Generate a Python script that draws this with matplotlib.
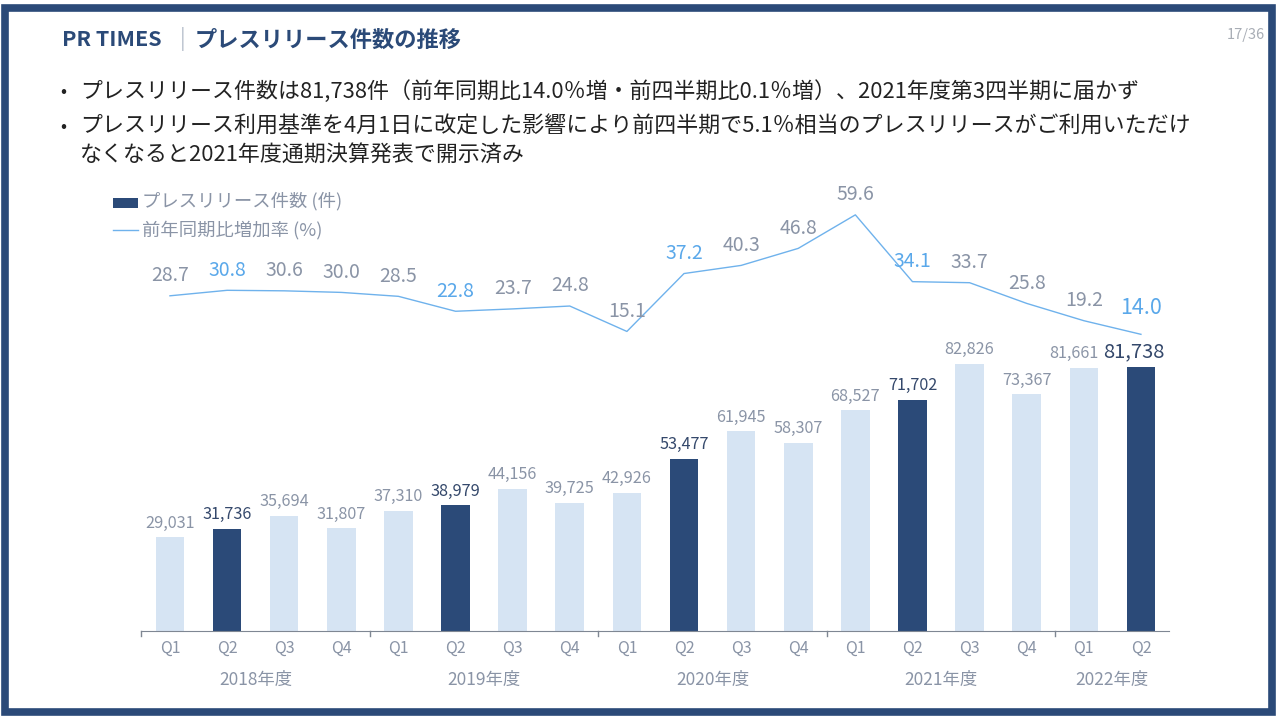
import matplotlib.pyplot as plt
import matplotlib.patches as patches
import numpy as np

plt.rcParams['font.family'] = ['Noto Sans CJK JP', 'DejaVu Sans']

# データ
quarters = ['Q1', 'Q2', 'Q3', 'Q4', 'Q1', 'Q2', 'Q3', 'Q4', 'Q1', 'Q2', 'Q3', 'Q4',
            'Q1', 'Q2', 'Q3', 'Q4', 'Q1', 'Q2']
fiscal_years = ['2018年度', '2019年度', '2020年度', '2021年度', '2022年度']
year_sizes = [4, 4, 4, 4, 2]
releases = [29031, 31736, 35694, 31807, 37310, 38979, 44156, 39725, 42926,
            53477, 61945, 58307, 68527, 71702, 82826, 73367, 81661, 81738]
growth = [28.7, 30.8, 30.6, 30.0, 28.5, 22.8, 23.7, 24.8, 15.1,
          37.2, 40.3, 46.8, 59.6, 34.1, 33.7, 25.8, 19.2, 14.0]

NAVY = '#2B4A78'
LIGHT = '#D6E4F3'
GRAY = '#8A94A6'
BLUE = '#5AA8EA'
LINE = '#6FB2EC'

W, H = 1280, 720


def px(x, y):
    return x / W, 1 - y / H


fig = plt.figure(figsize=(12.8, 7.2), dpi=100)
fig.patch.set_facecolor('white')

# 外枠
fig.add_artist(patches.Rectangle(px(5, 712), 1267 / W, 704 / H, transform=fig.transFigure,
                                 fill=False, edgecolor=NAVY, linewidth=5.5))

# タイトル
fig.text(*px(62, 40), 'PR TIMES', color=NAVY, fontsize=15.5, fontweight='bold', va='center')
fig.text(*px(183, 39), '|', color='#B8C0CC', fontsize=15, va='center', ha='center')
fig.text(*px(195, 40), 'プレスリリース件数の推移', color=NAVY, fontsize=16, fontweight='bold', va='center')
fig.text(*px(1265, 35), '17/36', color='#A8ADB5', fontsize=10.5, ha='right', va='center')

# 箇条書き
bullets = [
    (92, 'プレスリリース件数は81,738件（前年同期比14.0％増・前四半期比0.1％増）、2021年度第3四半期に届かず', True),
    (127, 'プレスリリース利用基準を4月1日に改定した影響により前四半期で5.1％相当のプレスリリースがご利用いただけ', True),
    (156, 'なくなると2021年度通期決算発表で開示済み', False),
]
for y, txt, dot in bullets:
    if dot:
        fig.text(*px(63, y), '•', color='#222222', fontsize=13, va='center', ha='center')
    fig.text(*px(80, y), txt, color='#222222', fontsize=15.8, va='center')

# 凡例
fig.add_artist(patches.Rectangle(px(113, 208), 25 / W, 10 / H, transform=fig.transFigure,
                                 facecolor=NAVY, edgecolor='none'))
fig.text(*px(142, 201), 'プレスリリース件数 (件)', color=GRAY, fontsize=13.2, va='center')
fig.add_artist(plt.Line2D([113 / W, 138 / W], [1 - 230 / H, 1 - 230 / H], color=LINE,
                          linewidth=1, transform=fig.transFigure))
fig.text(*px(142, 230), '前年同期比増加率 (%)', color=GRAY, fontsize=13.2, va='center')

# グラフ領域 (ピクセル位置から算出)
left, right, bottom, top = 141.4, 1169.5, 631, 190
ax = fig.add_axes([left / W, 1 - bottom / H, (right - left) / W, (bottom - top) / H])
x = np.arange(len(releases))
highlight = [q == 'Q2' for q in quarters]

colors = [NAVY if h else LIGHT for h in highlight]
ax.bar(x, releases, width=0.5, color=colors, zorder=2)
ax.set_xlim(-0.5, len(releases) - 0.5)
ax.set_ylim(0, (bottom - top) / 0.003224)

for i, v in enumerate(releases):
    last = i == len(releases) - 1
    col = '#34486B' if highlight[i] else GRAY
    fs = 14.5 if last else 11.7
    dx = -7 if i == len(releases) - 2 else (-5 if last else 0)
    ax.annotate(f'{v:,}', (i, v), xytext=(dx, 4), textcoords='offset points',
                ha='center', va='bottom', color=col, fontsize=fs)

for s in ['top', 'right', 'left']:
    ax.spines[s].set_visible(False)
ax.spines['bottom'].set_color('#7F8793')
ax.set_yticks([])
ax.set_xticks([])

# 年度の区切りと軸ラベル
bounds = np.concatenate([[0], np.cumsum(year_sizes)]) - 0.5
trans = ax.get_xaxis_transform()
for b in bounds[:-1]:
    ax.plot([b, b], [0, -0.012], color='#7F8793', linewidth=1, transform=trans, clip_on=False)
for i, q in enumerate(quarters):
    ax.text(i, -0.04, q, transform=trans, ha='center', va='center', color=GRAY, fontsize=11.5)
for k, fy in enumerate(fiscal_years):
    cx = (bounds[k] + bounds[k + 1]) / 2
    ax.text(cx, -0.11, fy, transform=trans, ha='center', va='center', color=GRAY, fontsize=12.5)

# 増加率 (第2軸)
ax2 = ax.twinx()
ax2.set_ylim(-(bottom - 371) / 2.62, (371 - top) / 2.62)
ax2.plot(x, growth, color=LINE, linewidth=1, zorder=3)
ax2.axis('off')
for i, v in enumerate(growth):
    last = i == len(growth) - 1
    col = BLUE if highlight[i] else GRAY
    fs = 15.5 if last else 14
    dy = 11 if last else 7
    ax2.annotate(f'{v:.1f}', (i, v), xytext=(0, dy), textcoords='offset points',
                 ha='center', va='bottom', color=col, fontsize=fs)

fig.savefig('out.png', dpi=100, facecolor='white')
